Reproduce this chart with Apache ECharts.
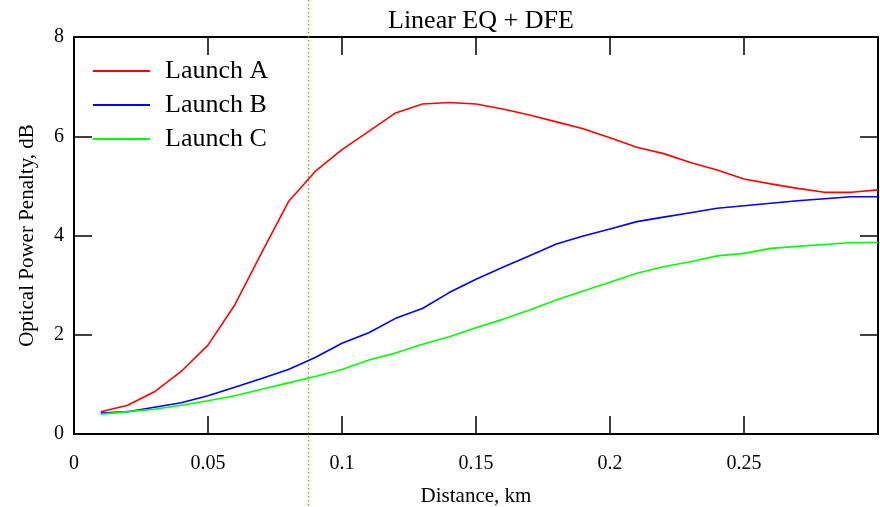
<!DOCTYPE html>
<html>
<head>
<meta charset="utf-8">
<script src="https://cdn.jsdelivr.net/npm/echarts@6/dist/echarts.min.js"></script>
<style>html,body{margin:0;padding:0;background:#fff;overflow:hidden}#c{width:880px;height:507px}</style>
</head>
<body>
<div id="c"></div>
<script>
const distance = [0.01,0.02,0.03,0.04,0.05,0.06,0.07,0.08,0.09,0.10,0.11,0.12,0.13,0.14,0.15,0.16,0.17,0.18,0.19,0.20,0.21,0.22,0.23,0.24,0.25,0.26,0.27,0.28,0.29,0.30];
const launchA = [0.45,0.58,0.85,1.26,1.79,2.60,3.65,4.68,5.29,5.73,6.10,6.47,6.65,6.68,6.65,6.55,6.43,6.29,6.15,5.97,5.78,5.65,5.47,5.32,5.14,5.04,4.95,4.87,4.87,4.92];
const launchB = [0.42,0.45,0.54,0.63,0.77,0.94,1.12,1.30,1.54,1.83,2.04,2.33,2.53,2.85,3.12,3.36,3.59,3.83,3.99,4.13,4.28,4.37,4.46,4.55,4.60,4.65,4.70,4.74,4.78,4.78];
const launchC = [0.40,0.45,0.50,0.58,0.67,0.77,0.90,1.03,1.16,1.30,1.49,1.63,1.81,1.96,2.14,2.31,2.50,2.70,2.88,3.06,3.24,3.37,3.47,3.59,3.64,3.74,3.78,3.82,3.86,3.86];
const seriesNames = ['Launch A','Launch B','Launch C'];
const markerDistance = 0.0874;
const xTicks = {min:0, max:0.3, interval:0.05};
const yTicks = {min:0, max:8, interval:2};

const FONT = 'Liberation Serif';
const pairs = ys => distance.map((x,i)=>[x, ys[i]]);
const colors = ['#ff0000','#0000ff','#00ff00'];
const axisLine = {show:true, onZero:false, lineStyle:{color:'#000', width:2}};
const tick = {show:true, inside:true, length:18, lineStyle:{color:'#000', width:1.5}};

const chart = echarts.init(document.getElementById('c'), null, {renderer:'canvas'});
chart.setOption({
  animation:false,
  backgroundColor:'#fff',
  title:{text:'Linear EQ + DFE', left:383, top:3, textStyle:{fontFamily:FONT, fontSize:26, fontWeight:'normal', color:'#000'}},
  legend:{
    data:seriesNames.map(n=>({name:n, icon:'rect'})), orient:'vertical', left:88, top:53,
    itemWidth:57, itemHeight:2, itemGap:8,
    textStyle:{fontFamily:FONT, fontSize:26, color:'#000', padding:[0,0,0,10]}
  },
  grid:{left:74, right:2, top:37, bottom:73, containLabel:false, outerBoundsMode:'none'},
  xAxis:[
    {type:'value', position:'bottom', min:xTicks.min, max:xTicks.max, interval:xTicks.interval,
     name:'Distance, km', nameLocation:'middle', nameGap:52,
     nameTextStyle:{fontFamily:FONT, fontSize:21, color:'#000'},
     axisLine:axisLine, axisTick:tick, splitLine:{show:false},
     axisLabel:{fontFamily:FONT, fontSize:20, color:'#000', margin:20,
       formatter:v=> v>0.3-1e-9 ? '' : String(+v.toFixed(2))}},
    {type:'value', position:'top', min:xTicks.min, max:xTicks.max, interval:xTicks.interval,
     axisLine:axisLine, axisTick:tick, splitLine:{show:false}, axisLabel:{show:false}}
  ],
  yAxis:[
    {type:'value', position:'left', min:yTicks.min, max:yTicks.max, interval:yTicks.interval,
     name:'Optical Power Penalty, dB', nameLocation:'middle', nameGap:36,
     nameTextStyle:{fontFamily:FONT, fontSize:21, color:'#000'},
     axisLine:axisLine, axisTick:tick, splitLine:{show:false},
     axisLabel:{fontFamily:FONT, fontSize:20, color:'#000', margin:10}},
    {type:'value', position:'right', min:yTicks.min, max:yTicks.max, interval:yTicks.interval,
     axisLine:axisLine, axisTick:tick, splitLine:{show:false}, axisLabel:{show:false}}
  ],
  series:[
    ...[launchA, launchB, launchC].map((ys,i)=>({
      name:seriesNames[i], type:'line', data:pairs(ys), symbol:'none', showSymbol:false,
      lineStyle:{color:colors[i], width:1.6}, itemStyle:{color:colors[i]}, z:3
    })),
    {type:'custom', name:'marker', data:[[markerDistance, 0]], clip:false, silent:true, z:2,
     renderItem:(params, api)=>{
       const x = Math.round(api.coord([api.value(0), 0])[0]) + 0.5;
       return {type:'line', shape:{x1:x, y1:0, x2:x, y2:api.getHeight()},
               style:{stroke:'#9a9a00', lineWidth:1.3, lineDash:[1.5,2.5]}};
     }}
  ]
});
</script>
</body>
</html>
